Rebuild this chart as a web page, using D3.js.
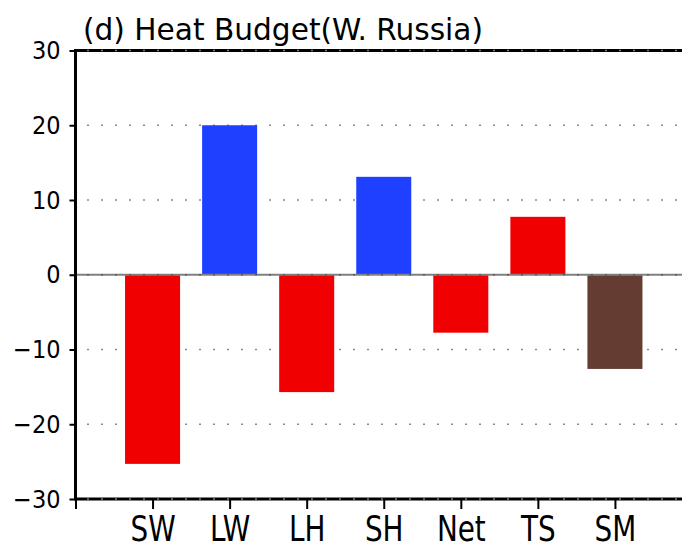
<!DOCTYPE html>
<html>
<head>
<meta charset="utf-8">
<script src="https://cdn.jsdelivr.net/npm/d3@7"></script>
<style>
  html, body { margin: 0; padding: 0; background: #fff; }
  svg { display: block; }
</style>
</head>
<body>
<svg id="chart" width="682" height="550"></svg>
<script>
// Heat budget terms over western Russia
const categories = ["SW", "LW", "LH", "SH", "Net", "TS", "SM"];
const values = [-25.3, 20.0, -15.7, 13.1, -7.75, 7.75, -12.6];
const yTicks = [-30, -20, -10, 0, 10, 20, 30];
const titleText = "(d) Heat Budget(W. Russia)";

// bar fill per term; everything not listed is red
const colorOf = { LW: "#2040ff", SH: "#2040ff", SM: "#643c32" };
const defaultFill = "#f00000";

const svg = d3.select("#chart");

const plotLeft = 75.5, plotTop = 50.5, plotBottom = 499;
const x = d3.scaleLinear().domain([0, 8]).range([plotLeft, 692]);
const y = d3.scaleLinear().domain([-30, 30]).range([plotBottom, plotTop]);
const halfBar = 0.357;

const font = "'DejaVu Sans Condensed', 'DejaVu Sans', sans-serif";

function dottedLine(g, v, color) {
  g.append("line")
    .attr("x1", plotLeft + 1.5).attr("x2", 682)
    .attr("y1", y(v)).attr("y2", y(v))
    .attr("stroke", color)
    .attr("stroke-width", 1.5)
    .attr("stroke-dasharray", "2,12")
    .attr("stroke-dashoffset", -10);
}

// dotted horizontal grid (under the bars)
const grid = svg.append("g");
yTicks.filter(v => v !== 0 && Math.abs(v) !== 30).forEach(v => dottedLine(grid, v, "#8a8a8a"));

// bars
svg.append("g")
  .selectAll("rect")
  .data(values)
  .join("rect")
  .attr("x", (d, i) => x(i + 1 - halfBar))
  .attr("width", (d, i) => x(i + 1 + halfBar) - x(i + 1 - halfBar))
  .attr("y", d => y(Math.max(0, d)))
  .attr("height", d => Math.abs(y(d) - y(0)))
  .attr("fill", (d, i) => colorOf[categories[i]] || defaultFill);

// zero line over the bars
svg.append("line")
  .attr("x1", plotLeft).attr("x2", 682)
  .attr("y1", y(0)).attr("y2", y(0))
  .attr("stroke", "#808080").attr("stroke-width", 2);
dottedLine(svg, 0, "#5a5a5a");

// frame: left axis, top and bottom borders
const frame = svg.append("g").attr("stroke", "#000").attr("stroke-width", 3);
frame.append("line").attr("x1", plotLeft).attr("x2", plotLeft).attr("y1", plotTop - 1.5).attr("y2", plotBottom + 1.5);
frame.append("line").attr("x1", plotLeft).attr("x2", 682).attr("y1", plotTop).attr("y2", plotTop);
frame.append("line").attr("x1", plotLeft).attr("x2", 682).attr("y1", plotBottom).attr("y2", plotBottom);

// gray dots drawn along the top and bottom borders
const borderDots = svg.append("g");
[30, -30].forEach(v => dottedLine(borderDots, v, "#7a7a7a"));

// y axis
const yAxis = d3.axisLeft(y).tickValues(yTicks).tickSize(6).tickPadding(9)
  .tickFormat(d => d < 0 ? "\u2212" + Math.abs(d) : String(d));
const gy = svg.append("g").attr("transform", `translate(${plotLeft},0)`).call(yAxis);
gy.select(".domain").remove();
gy.selectAll(".tick line").attr("stroke", "#000").attr("stroke-width", 2);
gy.selectAll(".tick text")
  .attr("fill", "#000")
  .style("font-family", font)
  .style("font-size", "25px");

// x axis
const xAxis = d3.axisBottom(x).tickValues(d3.range(0, categories.length + 1)).tickSize(10)
  .tickPadding(4)
  .tickFormat(i => categories[i - 1] || "");
const gx = svg.append("g").attr("transform", `translate(0,${plotBottom})`).call(xAxis);
gx.select(".domain").remove();
gx.selectAll(".tick line").attr("stroke", "#000").attr("stroke-width", 2);
gx.selectAll(".tick text")
  .attr("fill", "#000")
  .attr("y", null).attr("dy", null)
  .attr("transform", "translate(0,42) scale(0.86,1)")
  .style("font-family", font)
  .style("font-size", "36px");

// title
svg.append("text")
  .attr("x", 83).attr("y", 40)
  .attr("textLength", 400)
  .attr("lengthAdjust", "spacingAndGlyphs")
  .style("font-family", font)
  .style("font-size", "30px")
  .attr("fill", "#000")
  .text(titleText);
</script>
</body>
</html>
